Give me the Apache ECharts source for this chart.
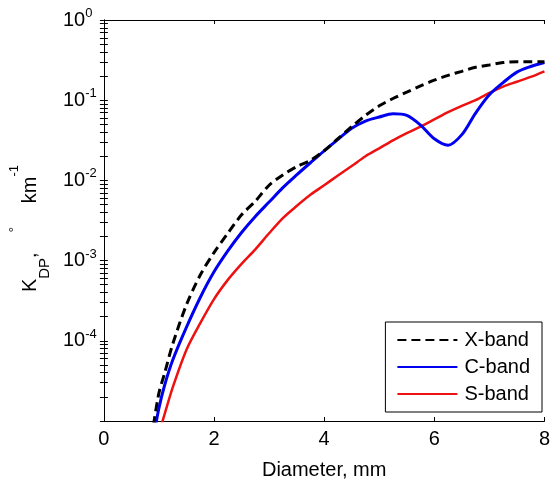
<!DOCTYPE html>
<html>
<head>
<meta charset="utf-8">
<script src="https://cdn.jsdelivr.net/npm/echarts@6/dist/echarts.min.js"></script>
<style>
html,body{margin:0;padding:0;background:#fff;}
#chart{width:553px;height:485px;}
</style>
</head>
<body>
<div id="chart"></div>
<script>
// Diameter (mm)
var diameters = [0.9,1.0,1.1,1.25,1.5,1.75,2.0,2.25,2.5,2.75,3.0,3.25,3.5,3.75,4.0,4.25,4.5,4.75,5.0,5.25,5.5,5.75,6.0,6.25,6.5,6.75,7.0,7.25,7.5,7.75,8.0];
// KDP (deg/km)
var xBand = [8.9e-6,2.24e-5,3.89e-5,9.12e-5,2.82e-4,6.61e-4,1.26e-3,2.19e-3,3.72e-3,5.50e-3,8.71e-3,1.17e-2,1.48e-2,1.78e-2,2.34e-2,3.31e-2,4.68e-2,6.46e-2,8.51e-2,0.105,0.126,0.151,0.178,0.204,0.229,0.257,0.275,0.295,0.302,0.302,0.302];
var cBand = [6.3e-6,1.45e-5,2.75e-5,5.75e-5,1.48e-4,3.47e-4,7.24e-4,1.32e-3,2.24e-3,3.55e-3,5.37e-3,8.13e-3,1.17e-2,1.66e-2,2.34e-2,3.24e-2,4.47e-2,5.50e-2,6.17e-2,6.76e-2,6.46e-2,4.90e-2,3.31e-2,2.75e-2,3.72e-2,6.92e-2,0.117,0.166,0.224,0.263,0.295];
var sBand = [null,7.1e-6,1.20e-5,2.63e-5,7.76e-5,1.66e-4,3.31e-4,5.75e-4,9.12e-4,1.38e-3,2.19e-3,3.39e-3,4.79e-3,6.61e-3,8.71e-3,1.15e-2,1.51e-2,2.00e-2,2.51e-2,3.16e-2,3.89e-2,4.68e-2,5.75e-2,7.08e-2,8.51e-2,0.100,0.123,0.148,0.170,0.195,0.229];
var seriesNames = ['X-band','C-band','S-band'];
var xTicks = [0,2,4,6,8];
var yDecades = [1e-5,1e-4,1e-3,1e-2,1e-1,1];
var yLabelValues = [1e-4,1e-3,1e-2,1e-1,1];
var minorMult = [2,3,4,5,6,7,8,9];

var yTickValues = [];
for (var i = 0; i < yDecades.length; i++) {
  yTickValues.push(yDecades[i]);
  if (i < yDecades.length - 1) {
    for (var j = 0; j < minorMult.length; j++) yTickValues.push(minorMult[j] * yDecades[i]);
  }
}
function pairs(vals) {
  return diameters.map(function (d, k) { return [d, vals[k]]; });
}

var FONT = 'Liberation Sans, Arial, Helvetica, sans-serif';
var FS = 20;
var chart = echarts.init(document.getElementById('chart'), null, {renderer: 'canvas'});

var yLabelFmt = function (v) {
  var e = Math.round(Math.log(v) / Math.LN10);
  return '{b|10}{s|' + e + '}';
};
var axisBase = {
  axisLine: {show: true, lineStyle: {color: '#000', width: 1}},
  splitLine: {show: false}
};

var option = {
  animation: false,
  backgroundColor: '#fff',
  textStyle: {fontFamily: FONT},
  grid: {left: 99, right: 4, top: 20, bottom: 64, containLabel: false},
  xAxis: [
    Object.assign({
      type: 'value', min: 0, max: 8, interval: 2, position: 'bottom',
      axisTick: {show: true, inside: true, length: 4, customValues: xTicks, lineStyle: {color: '#000'}},
      axisLabel: {show: true, customValues: xTicks, color: '#000', fontSize: FS, fontFamily: FONT, margin: 8},
      name: 'Diameter, mm', nameLocation: 'middle', nameGap: 39,
      nameTextStyle: {color: '#000', fontSize: FS, fontFamily: FONT}
    }, axisBase),
    Object.assign({
      type: 'value', min: 0, max: 8, interval: 2, position: 'top',
      axisTick: {show: true, inside: true, length: 4, customValues: xTicks, lineStyle: {color: '#000'}},
      axisLabel: {show: false}
    }, axisBase)
  ],
  yAxis: [
    Object.assign({
      type: 'log', logBase: 10, min: 1e-5, max: 1, position: 'left',
      axisTick: {show: true, inside: true, length: 4, customValues: yTickValues, lineStyle: {color: '#000'}},
      axisLabel: {
        show: true, customValues: yLabelValues, formatter: yLabelFmt, margin: 41, align: 'left', color: '#000',
        rich: {
          b: {fontSize: FS, fontFamily: FONT, color: '#000', lineHeight: 26, verticalAlign: 'middle'},
          s: {fontSize: 13, fontFamily: FONT, color: '#000', lineHeight: 14, verticalAlign: 'top'}
        }
      },
      name: '{m|K}{sub|DP}{m|,}{sup|°}{m|km}{sup2|-1}',
      nameLocation: 'middle', nameRotate: 90, nameGap: 49,
      nameTextStyle: {
        color: '#000', fontFamily: FONT, fontSize: FS,
        rich: {
          m: {fontSize: FS, fontFamily: FONT, color: '#000', lineHeight: 44, verticalAlign: 'middle'},
          sub: {fontSize: 15, fontFamily: FONT, color: '#000', lineHeight: 24, verticalAlign: 'bottom'},
          sup: {fontSize: 13, fontFamily: FONT, color: '#000', lineHeight: 26, verticalAlign: 'top', padding: [0, 24, 0, 20]},
          sup2: {fontSize: 13, fontFamily: FONT, color: '#000', lineHeight: 26, verticalAlign: 'top', padding: [0, 16, 0, 0]}
        }
      }
    }, axisBase),
    Object.assign({
      type: 'log', logBase: 10, min: 1e-5, max: 1, position: 'right',
      axisTick: {show: true, inside: true, length: 4, customValues: yTickValues, lineStyle: {color: '#000'}},
      axisLabel: {show: false}
    }, axisBase)
  ],
  legend: {
    orient: 'vertical', right: 11, bottom: 73,
    data: seriesNames,
    itemWidth: 60, itemHeight: 14, itemGap: 7,
    itemStyle: {opacity: 0, borderWidth: 0},
    padding: [8, 12, 8, 11],
    borderColor: '#000', borderWidth: 1, backgroundColor: '#fff',
    textStyle: {color: '#000', fontSize: FS, fontFamily: FONT, padding: [0, 0, 0, 2]}
  },
  series: [
    {name: seriesNames[0], type: 'line', data: pairs(xBand), symbol: 'none', smooth: 0.3,
     lineStyle: {color: '#000', width: 3, type: [9, 5]}, itemStyle: {color: '#000'}, z: 3},
    {name: seriesNames[1], type: 'line', data: pairs(cBand), symbol: 'none', smooth: 0.3,
     lineStyle: {color: '#0000f0', width: 3}, itemStyle: {color: '#0000f0'}, z: 2},
    {name: seriesNames[2], type: 'line', data: pairs(sBand), symbol: 'none', smooth: 0.3,
     lineStyle: {color: '#ee1111', width: 2.5}, itemStyle: {color: '#ee1111'}, z: 1}
  ]
};
chart.setOption(option);
</script>
</body>
</html>
